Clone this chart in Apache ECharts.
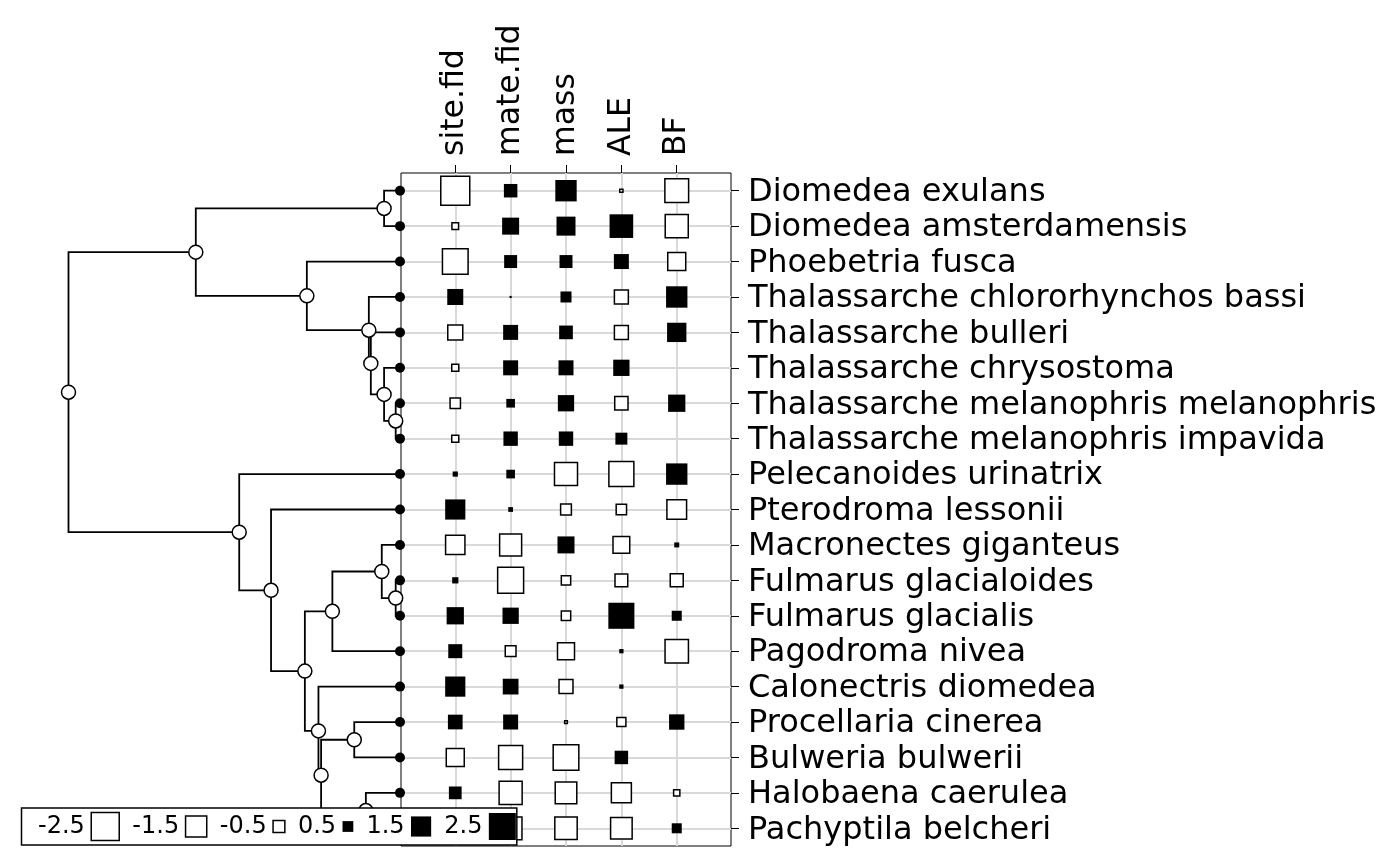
<!DOCTYPE html>
<html><head><meta charset="utf-8">
<script src="https://cdn.jsdelivr.net/npm/echarts@6/dist/echarts.min.js"></script>
<style>html,body{margin:0;padding:0;background:#fff}#c{width:1400px;height:866px}</style>
</head><body><div id="c"></div>
<script>
// ---------------- data ----------------
const species = [
  'Diomedea exulans','Diomedea amsterdamensis','Phoebetria fusca',
  'Thalassarche chlororhynchos bassi','Thalassarche bulleri','Thalassarche chrysostoma',
  'Thalassarche melanophris melanophris','Thalassarche melanophris impavida',
  'Pelecanoides urinatrix','Pterodroma lessonii','Macronectes giganteus',
  'Fulmarus glacialoides','Fulmarus glacialis','Pagodroma nivea','Calonectris diomedea',
  'Procellaria cinerea','Bulweria bulwerii','Halobaena caerulea','Pachyptila belcheri'
];
const variables = ['site.fid','mate.fid','mass','ALE','BF'];
const siteFid = [-2.66,-0.16,-2.13,1.0,-0.79,-0.18,-0.39,-0.18,0.14,1.5,-1.27,0.19,1.14,0.79,1.5,0.86,-1.11,0.67,1.08];
const mateFid = [0.74,1.11,0.69,0.03,0.89,0.89,0.34,0.83,0.34,0.12,-1.61,-2.18,1.03,-0.42,0.97,0.89,-1.89,-1.75,-1.7];
const mass    = [1.66,1.35,0.69,0.52,0.76,0.89,1.03,0.83,-1.75,-0.42,1.11,-0.32,-0.32,-1.0,-0.69,-0.02,-2.13,-1.55,-1.66];
const ALE     = [-0.03,1.98,0.89,-0.69,-0.69,1.03,-0.63,0.60,-2.03,-0.39,-0.97,-0.58,2.35,0.1,0.1,-0.3,0.74,-1.35,-1.55];
const BF      = [-1.85,-1.75,-1.11,1.66,1.39,0,1.14,0,1.66,-1.31,0.13,-0.60,0.44,-1.8,0,0.93,0,-0.14,0.44];
const legendValues = [-2.5,-1.5,-0.5,0.5,1.5,2.5];
const legendLabels = ['-2.5','-1.5','-0.5','0.5','1.5','2.5'];
// internal tree nodes: [name, parent, depth from root (root = 0, tips = 1)]
const treeNodes = [
  ['root',null,0],['A','root',0.384],['Dm','A',0.952],['P','A',0.719],['Q','P',0.906],
  ['C','Q',0.912],['D','C',0.952],['E','D',0.987],['B','root',0.515],['F','B',0.611],
  ['G','F',0.713],['H','G',0.796],['J','H',0.945],['K','J',0.987],['I','G',0.754],
  ['L','I',0.762],['M','L',0.862],['N','L',0.897]
];
const leafParents = ['Dm','Dm','P','Q','C','D','E','E','B','F','J','K','K','H','I','M','M','N','N'];
const tipDepth = 1;

// ---------------- build ----------------
const columns = [siteFid, mateFid, mass, ALE, BF];
const maxSym = 27;
const symSize = v => maxSym * Math.pow(Math.abs(v) / 2.5, 0.57);

const pos = [], neg = [];
columns.forEach((arr, j) => arr.forEach((v, i) => {
  (v >= 0 ? pos : neg).push([j + 1, i + 1, v]);
}));

const nodeMap = {};
treeNodes.forEach(n => nodeMap[n[0]] = {name: n[0], parent: n[1], x: n[2], kids: []});
treeNodes.forEach(n => { if (n[1]) nodeMap[n[1]].kids.push({type: 'node', ref: nodeMap[n[0]]}); });
leafParents.forEach((p, i) => nodeMap[p].kids.push({type: 'leaf', y: i + 1}));
function nodeY(n) {
  if (n.y !== undefined) return n.y;
  const ys = n.kids.map(k => k.type === 'leaf' ? k.y : nodeY(k.ref));
  n.y = ys.reduce((a, b) => a + b, 0) / ys.length;
  return n.y;
}
Object.values(nodeMap).forEach(nodeY);
const edges = [];
Object.values(nodeMap).forEach(n => {
  n.kids.forEach(k => {
    const cx = k.type === 'leaf' ? tipDepth : k.ref.x;
    const cy = k.type === 'leaf' ? k.y : k.ref.y;
    edges.push({coords: [[n.x, n.y], [n.x, cy], [cx, cy]]});
  });
});
const internalPts = Object.values(nodeMap).map(n => [n.x, n.y]);
const leafPts = species.map((s, i) => [tipDepth, i + 1]);

const FONT = 'DejaVu Sans';
const LFS = 24;
// legend layout (flow)
const mctx = document.createElement('canvas').getContext('2d');
mctx.font = LFS + 'px "' + FONT + '"';
const legendY = 826.5;
let lx = 38;
const legendEls = [];
legendValues.forEach((v, k) => {
  const w = mctx.measureText(legendLabels[k]).width;
  legendEls.push({type: 'text', x: lx, y: legendY, z: 101,
    style: {text: legendLabels[k], fontSize: LFS, fontFamily: FONT, fill: '#000', align: 'left', verticalAlign: 'middle'}});
  lx += w + 6.4;
  const s = symSize(v) + (v < 0 ? 1 : 0);
  const c = lx + s / 2;
  legendEls.push({type: 'rect', z: 101, shape: {x: c - s / 2, y: legendY - s / 2, width: s, height: s},
    style: v < 0 ? {fill: '#fff', stroke: '#000', lineWidth: 1.5} : {fill: '#000'}});
  lx += s + 13.1;
});
const boxL = 21.5, boxR = lx - 13.1 + 1;
legendEls.unshift({type: 'rect', z: 100, shape: {x: boxL, y: 808, width: boxR - boxL, height: 37},
  style: {fill: '#fff', stroke: '#000', lineWidth: 1.5}});

const rows = species.map((s, i) => i + 1);
const cols = variables.map((s, i) => i + 1);
const gridLine = {show: true, lineStyle: {color: '#d9d9d9', width: 2}};

const chart = echarts.init(document.getElementById('c'), null, {renderer: 'canvas'});
chart.setOption({
  animation: false,
  backgroundColor: '#fff',
  textStyle: {fontFamily: FONT},
  grid: [
    {left: 401, top: 173, width: 330, height: 673, show: true, borderColor: '#000', borderWidth: 1, backgroundColor: 'transparent'},
    {left: 68.5, top: 173, width: 331.5, height: 673}
  ],
  xAxis: [
    {gridIndex: 0, type: 'value', position: 'top', min: 0.02, max: 5.98,
     axisLine: {show: false},
     axisTick: {show: true, length: 8, lineStyle: {color: '#000', width: 1}, customValues: cols},
     axisLabel: {customValues: cols, formatter: v => variables[Math.round(v) - 1] || '', rotate: -90, margin: 17,
       fontSize: 31.5, color: '#000', fontFamily: FONT},
     splitLine: gridLine},
    {gridIndex: 1, type: 'value', min: 0, max: 1, show: false}
  ],
  yAxis: [
    {gridIndex: 0, type: 'value', position: 'right', inverse: true, min: 0.5, max: 19.5,
     axisLine: {show: false},
     axisTick: {show: true, length: 8, lineStyle: {color: '#000', width: 1}, customValues: rows},
     axisLabel: {customValues: rows, formatter: v => '{s|' + (species[Math.round(v) - 1] || '') + '}', margin: 17,
       fontSize: 32, color: '#000', fontFamily: FONT,
       rich: {s: {fontSize: 32, fontFamily: FONT, color: '#000', padding: [4, 0, 0, 0]}}},
     splitLine: gridLine},
    {gridIndex: 1, type: 'value', inverse: true, min: 0.5, max: 19.5, show: false}
  ],
  series: [
    {type: 'lines', coordinateSystem: 'cartesian2d', xAxisIndex: 1, yAxisIndex: 1, polyline: true, silent: true,
     lineStyle: {color: '#000', width: 1.8, opacity: 1}, data: edges, z: 3},
    {type: 'scatter', xAxisIndex: 1, yAxisIndex: 1, symbol: 'circle', symbolSize: 10, silent: true,
     itemStyle: {color: '#000', opacity: 1}, data: leafPts, z: 4},
    {type: 'scatter', xAxisIndex: 1, yAxisIndex: 1, symbol: 'circle', symbolSize: 14, silent: true,
     itemStyle: {color: '#fff', borderColor: '#000', borderWidth: 1.5, opacity: 1}, data: internalPts, z: 5},
    {type: 'scatter', xAxisIndex: 0, yAxisIndex: 0, symbol: 'rect', silent: true,
     symbolSize: d => symSize(d[2]) + 1,
     itemStyle: {color: '#fff', borderColor: '#000', borderWidth: 1.5, opacity: 1}, data: neg, z: 3},
    {type: 'scatter', xAxisIndex: 0, yAxisIndex: 0, symbol: 'rect', silent: true,
     symbolSize: d => symSize(d[2]),
     itemStyle: {color: '#000', opacity: 1}, data: pos, z: 3}
  ],
  graphic: [{type: 'group', z: 100, zlevel: 1, silent: true, children: legendEls}]
});
</script></body></html>
